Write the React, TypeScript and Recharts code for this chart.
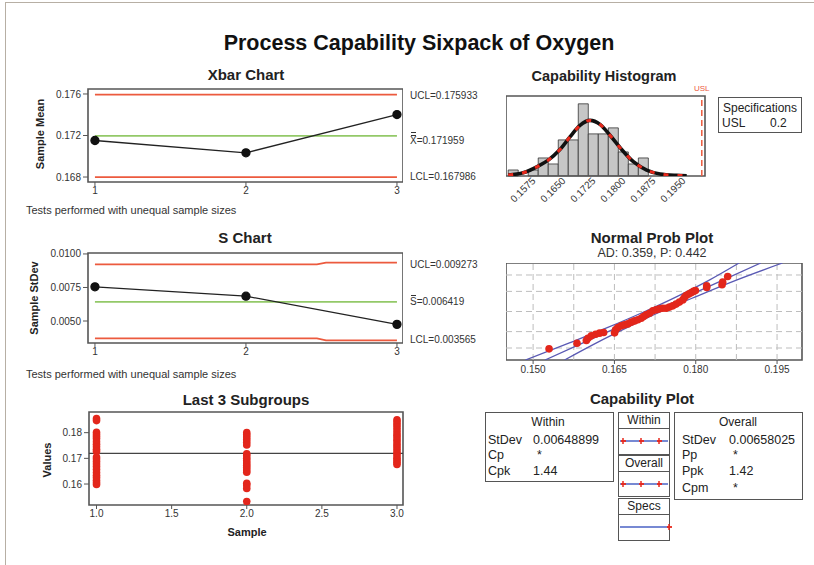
import React from "react";
import {
  ComposedChart,
  Line,
  Scatter,
  XAxis,
  YAxis,
  ReferenceLine,
  ReferenceArea,
} from "recharts";

const FONT = '"Liberation Sans", Arial, Helvetica, sans-serif';
const RED = "#ec5a3e";
const GREEN = "#93c968";
const DOT_RED = "#e3261b";
const BAND_BLUE = "#5a5ab4";
const FRAME = "#555";

// Xbar chart
const samples = [1, 2, 3];
const xbarMeans = [0.17152, 0.17033, 0.17402];
const xbarUCL = 0.175933;
const xbarCL = 0.171959;
const xbarLCL = 0.167986;
const xbarTicks = [0.168, 0.172, 0.176];

// S chart (limits step between subgroup 2 and 3)
const sValues = [0.00755, 0.00685, 0.00475];
const sLimitX = [1, 2.47, 2.53, 3];
const sUCL = [0.00922, 0.00922, 0.00935, 0.00935];
const sLCL = [0.0037, 0.0037, 0.00355, 0.00355];
const sCL = 0.006419;
const sTicks = [0.005, 0.0075, 0.01];

// Last 3 subgroups
const group1 = [
  0.1855, 0.1847, 0.1801, 0.1792, 0.1784, 0.1776, 0.1765, 0.1755, 0.1745, 0.1735, 0.1727,
  0.1705, 0.1697, 0.1688, 0.1678, 0.1668, 0.1657, 0.1645, 0.1634, 0.1625, 0.1615, 0.1606, 0.1598,
];
const group2 = [
  0.18, 0.1792, 0.1783, 0.1773, 0.1763, 0.1752, 0.1718, 0.171, 0.17, 0.1691, 0.1682, 0.1673,
  0.1664, 0.1655, 0.1646, 0.1603, 0.1596, 0.1583, 0.1532,
];
const group3 = [
  0.185, 0.1842, 0.1832, 0.1822, 0.1811, 0.18, 0.179, 0.178, 0.177, 0.176, 0.175, 0.174,
  0.173, 0.172, 0.171, 0.17, 0.1692, 0.1684, 0.1676,
];
const subgroupXTicks = [1, 1.5, 2, 2.5, 3];
const subgroupYTicks = [0.16, 0.17, 0.18];

// Capability histogram
const histBinLow = [
  0.15165, 0.15415, 0.15665, 0.15915, 0.16165, 0.16415, 0.16665, 0.16915, 0.17165, 0.17415,
  0.17665, 0.17915, 0.18165, 0.18415,
];
const histCounts = [1, 0, 1, 3, 2, 6, 6, 12, 7, 7, 8, 4, 2, 3];
const histBinWidth = 0.0025;
const histCurveX = [
  0.15165, 0.1554, 0.15915, 0.16165, 0.16457, 0.16707, 0.16957, 0.17207, 0.17457, 0.17707,
  0.17998, 0.1829, 0.18623, 0.18957, 0.19373, 0.19623,
];
const histCurveY = [
  0.17, 0.55, 1.65, 2.64, 4.4, 6.49, 8.4, 9.24, 8.58, 6.77, 4.4, 2.37, 0.99, 0.33, 0.11, 0.05,
];
const histTicks = [0.1575, 0.165, 0.1725, 0.18, 0.1875, 0.195];
const USL = 0.2;

// Normal probability plot (x = value, z = normal score)
const probX = [
  0.15294, 0.1581, 0.15982, 0.16012, 0.16074, 0.16153, 0.16227, 0.16301, 0.16503, 0.16521,
  0.16564, 0.16626, 0.16687, 0.16748, 0.1681, 0.16871, 0.16932, 0.16994, 0.17037, 0.17086,
  0.17147, 0.17209, 0.1727, 0.17331, 0.17393, 0.17454, 0.17515, 0.17577, 0.17638, 0.17699,
  0.17761, 0.17791, 0.17822, 0.17871, 0.17914, 0.17957, 0.17994, 0.18202, 0.18202, 0.18485,
  0.18497, 0.18589,
];
const probZ = [
  -2.38, -2.02, -1.85, -1.7, -1.55, -1.45, -1.38, -1.34, -1.36, -1.17, -1.02, -0.91, -0.85,
  -0.79, -0.68, -0.6, -0.53, -0.43, -0.32, -0.21, -0.11, 0.04, 0.11, 0.17, 0.21, 0.21, 0.28,
  0.36, 0.47, 0.6, 0.74, 0.89, 1.02, 1.11, 1.19, 1.28, 1.34, 1.53, 1.64, 1.7, 1.87, 2.23,
];
const bandZ = [-3.09, -2, -1, 0, 1, 2, 3.09];
const fitX = [0.1522, 0.1592, 0.1657, 0.1721, 0.1786, 0.185, 0.192];
const upperBandX = [0.1486, 0.1567, 0.1639, 0.1706, 0.1768, 0.1825, 0.188];
const lowerBandX = [0.1558, 0.1617, 0.1675, 0.1736, 0.1804, 0.1875, 0.196];
const probTicks = [0.15, 0.165, 0.18, 0.195];
const probGridX = [0.15, 0.1575, 0.165, 0.1725, 0.18, 0.1875, 0.195];
const probGridZ = [-2.326, -1.282, 0, 1.282, 2.326];

const AXIS_TICK = { fontSize: 10, fill: "#333", fontFamily: FONT };

type TxtProps = {
  x: number;
  y: number;
  size?: number;
  bold?: boolean;
  center?: boolean;
  rotate?: boolean;
  color?: string;
  children: React.ReactNode;
};

function Txt({ x, y, size = 11, bold = false, center = false, rotate = false, color = "#222", children }: TxtProps) {
  const tx = center || rotate ? "-50%" : "0";
  return (
    <div
      style={{
        position: "absolute",
        left: x,
        top: y,
        fontFamily: FONT,
        fontSize: size,
        fontWeight: bold ? 700 : 400,
        color,
        lineHeight: 1,
        whiteSpace: "nowrap",
        transform: `translate(${tx},-50%)${rotate ? " rotate(-90deg)" : ""}`,
      }}
    >
      {children}
    </div>
  );
}

// letter with one (S) or two (X) bars above it
function Barred({ n }: { n: number }) {
  return (
    <span style={{ position: "relative", display: "inline-block" }}>
      {n === 2 ? "X" : "S"}
      <span
        style={{
          position: "absolute",
          left: 1,
          right: 1,
          top: n === 2 ? -4 : -2,
          height: n === 2 ? 2 : 0,
          borderTop: "1px solid #333",
          borderBottom: n === 2 ? "1px solid #333" : "none",
        }}
      />
    </span>
  );
}

function HistTick(props: any) {
  const { x, y, payload } = props;
  return (
    <g transform={`translate(${x + 2},${y + 1}) rotate(-45)`}>
      <text textAnchor="end" dy="0.35em" fontSize={10} fill="#333" fontFamily={FONT}>
        {Number(payload.value).toFixed(4)}
      </text>
    </g>
  );
}

const dotShape = (p: any) => <circle cx={p.cx} cy={p.cy} r={3.8} fill={DOT_RED} />;

function XbarChart() {
  const xd = [0.954, 3.04];
  const yd = [0.16752, 0.17648];
  const series = samples.map((s, i) => ({ x: s, y: xbarMeans[i] }));
  const hline = (v: number) => [
    { x: samples[0], y: v },
    { x: samples[samples.length - 1], y: v },
  ];
  return (
    <div style={{ position: "absolute", left: 28, top: 83 }}>
      <ComposedChart width={375} height={119} margin={{ top: 6, right: 0, bottom: 0, left: 0 }}>
        <XAxis type="number" dataKey="x" domain={xd} ticks={samples} allowDataOverflow interval={0}
          axisLine={false} tickLine={{ stroke: FRAME }} tickSize={4} tickMargin={1} tick={AXIS_TICK} height={20} />
        <YAxis type="number" dataKey="y" domain={yd} ticks={xbarTicks} allowDataOverflow interval={0}
          axisLine={false} tickLine={{ stroke: FRAME }} tickSize={5} tickMargin={2} tick={AXIS_TICK} width={60}
          tickFormatter={(v: number) => v.toFixed(3)} />
        <ReferenceArea x1={xd[0]} x2={xd[1]} y1={yd[0]} y2={yd[1]} fill="none" stroke={FRAME} strokeWidth={1.6} ifOverflow="visible" />
        <Line data={hline(xbarUCL)} dataKey="y" stroke={RED} strokeWidth={1.8} dot={false} isAnimationActive={false} />
        <Line data={hline(xbarCL)} dataKey="y" stroke={GREEN} strokeWidth={1.8} dot={false} isAnimationActive={false} />
        <Line data={hline(xbarLCL)} dataKey="y" stroke={RED} strokeWidth={1.8} dot={false} isAnimationActive={false} />
        <Line data={series} dataKey="y" stroke="#222" strokeWidth={1.3} dot={{ r: 4, fill: "#111", stroke: "#111" }} isAnimationActive={false} />
      </ComposedChart>
    </div>
  );
}

function SChart() {
  const xd = [0.954, 3.04];
  const yd = [0.00336, 0.01007];
  const series = samples.map((s, i) => ({ x: s, y: sValues[i] }));
  const ucl = sLimitX.map((x, i) => ({ x, y: sUCL[i] }));
  const lcl = sLimitX.map((x, i) => ({ x, y: sLCL[i] }));
  const cl = [
    { x: samples[0], y: sCL },
    { x: samples[samples.length - 1], y: sCL },
  ];
  return (
    <div style={{ position: "absolute", left: 28, top: 245 }}>
      <ComposedChart width={375} height={118} margin={{ top: 8, right: 0, bottom: 0, left: 0 }}>
        <XAxis type="number" dataKey="x" domain={xd} ticks={samples} allowDataOverflow interval={0}
          axisLine={false} tickLine={{ stroke: FRAME }} tickSize={4} tickMargin={1} tick={AXIS_TICK} height={20} />
        <YAxis type="number" dataKey="y" domain={yd} ticks={sTicks} allowDataOverflow interval={0}
          axisLine={false} tickLine={{ stroke: FRAME }} tickSize={5} tickMargin={2} tick={AXIS_TICK} width={60}
          tickFormatter={(v: number) => v.toFixed(4)} />
        <ReferenceArea x1={xd[0]} x2={xd[1]} y1={yd[0]} y2={yd[1]} fill="none" stroke={FRAME} strokeWidth={1.6} ifOverflow="visible" />
        <Line data={ucl} dataKey="y" stroke={RED} strokeWidth={1.8} dot={false} isAnimationActive={false} />
        <Line data={cl} dataKey="y" stroke={GREEN} strokeWidth={1.8} dot={false} isAnimationActive={false} />
        <Line data={lcl} dataKey="y" stroke={RED} strokeWidth={1.8} dot={false} isAnimationActive={false} />
        <Line data={series} dataKey="y" stroke="#222" strokeWidth={1.3} dot={{ r: 4, fill: "#111", stroke: "#111" }} isAnimationActive={false} />
      </ComposedChart>
    </div>
  );
}

function SubgroupChart() {
  const xd = [0.95, 3.04];
  const yd = [0.15183, 0.18805];
  const pts = [
    ...group1.map((v) => ({ x: samples[0], y: v })),
    ...group2.map((v) => ({ x: samples[1], y: v })),
    ...group3.map((v) => ({ x: samples[2], y: v })),
  ];
  return (
    <div style={{ position: "absolute", left: 29, top: 406 }}>
      <ComposedChart width={378} height={119} margin={{ top: 6, right: 4, bottom: 0, left: 0 }}>
        <XAxis type="number" dataKey="x" domain={xd} ticks={subgroupXTicks} allowDataOverflow interval={0}
          axisLine={false} tickLine={{ stroke: FRAME }} tickSize={4} tickMargin={1} tick={AXIS_TICK} height={20}
          tickFormatter={(v: number) => v.toFixed(1)} />
        <YAxis type="number" dataKey="y" domain={yd} ticks={subgroupYTicks} allowDataOverflow interval={0}
          axisLine={false} tickLine={{ stroke: FRAME }} tickSize={5} tickMargin={2} tick={AXIS_TICK} width={60}
          tickFormatter={(v: number) => v.toFixed(2)} />
        <ReferenceArea x1={xd[0]} x2={xd[1]} y1={yd[0]} y2={yd[1]} fill="none" stroke={FRAME} strokeWidth={1.6} ifOverflow="visible" />
        <ReferenceLine y={xbarCL} stroke="#444" strokeWidth={1.2} />
        <Scatter data={pts} shape={dotShape} isAnimationActive={false} />
      </ComposedChart>
    </div>
  );
}

function HistogramChart() {
  const xd = [0.1511, 0.2008];
  const yd = [0, 13.3];
  const curve = histCurveX.map((x, i) => ({ x, y: histCurveY[i] }));
  return (
    <div style={{ position: "absolute", left: 506, top: 82 }}>
      <ComposedChart width={214} height={129} margin={{ top: 14, right: 15, bottom: 0, left: 0 }}>
        <XAxis type="number" dataKey="x" domain={xd} ticks={histTicks} allowDataOverflow interval={0}
          axisLine={false} tickLine={false} tickSize={0} tickMargin={2} tick={<HistTick />} height={35} />
        <YAxis type="number" dataKey="y" domain={yd} allowDataOverflow hide />
        {histBinLow.map((lo, i) =>
          histCounts[i] > 0 ? (
            <ReferenceArea key={lo} x1={lo} x2={lo + histBinWidth} y1={0} y2={histCounts[i]}
              fill="#c6c6c6" fillOpacity={1} stroke="#333" strokeWidth={0.8} ifOverflow="visible" />
          ) : null
        )}
        <ReferenceArea x1={xd[0]} x2={xd[1]} y1={yd[0]} y2={yd[1]} fill="none" stroke={FRAME} strokeWidth={1.6} ifOverflow="visible" />
        <ReferenceLine x={USL} stroke={RED} strokeWidth={1.5} strokeDasharray="6 4"
          label={{ value: "USL", position: "top", fill: RED, fontSize: 8, fontFamily: FONT }} />
        <Line data={curve} dataKey="y" type="monotone" stroke="#111" strokeWidth={3.6} dot={false} isAnimationActive={false} />
        <Line data={curve} dataKey="y" type="monotone" stroke="#e8291c" strokeWidth={3} strokeDasharray="5 9" dot={false} isAnimationActive={false} />
      </ComposedChart>
    </div>
  );
}

function ProbChart() {
  const xd = [0.145, 0.1996];
  const yd = [-3.09, 3.09];
  const pts = probX.map((x, i) => ({ x, z: probZ[i] }));
  const band = (xs: number[]) => xs.map((x, i) => ({ x, z: bandZ[i] }));
  return (
    <div style={{ position: "absolute", left: 506, top: 263 }}>
      <ComposedChart width={300} height={119} margin={{ top: 0, right: 4, bottom: 0, left: 0 }}>
        <XAxis type="number" dataKey="x" domain={xd} ticks={probTicks} allowDataOverflow interval={0}
          axisLine={false} tickLine={{ stroke: FRAME }} tickSize={4} tickMargin={2} tick={AXIS_TICK} height={22}
          tickFormatter={(v: number) => v.toFixed(3)} />
        <YAxis type="number" dataKey="z" domain={yd} allowDataOverflow hide />
        {probGridX.map((v) => (
          <ReferenceLine key={"gx" + v} x={v} stroke="#bdbdbd" strokeDasharray="6 4" />
        ))}
        {probGridZ.map((v) => (
          <ReferenceLine key={"gz" + v} y={v} stroke="#bdbdbd" strokeDasharray="6 4" />
        ))}
        <ReferenceArea x1={xd[0]} x2={xd[1]} y1={yd[0]} y2={yd[1]} fill="none" stroke={FRAME} strokeWidth={1.6} ifOverflow="visible" />
        <Line data={band(upperBandX)} dataKey="z" type="monotone" stroke={BAND_BLUE} strokeWidth={1.3} dot={false} isAnimationActive={false} />
        <Line data={band(fitX)} dataKey="z" type="linear" stroke={BAND_BLUE} strokeWidth={1.3} dot={false} isAnimationActive={false} />
        <Line data={band(lowerBandX)} dataKey="z" type="monotone" stroke={BAND_BLUE} strokeWidth={1.3} dot={false} isAnimationActive={false} />
        <Scatter data={pts} shape={dotShape} isAnimationActive={false} />
      </ComposedChart>
    </div>
  );
}

const boxBorder = "1.6px solid #555";

function LegendLine({ top, marks }: { top: number; marks: number[] }) {
  return (
    <svg style={{ position: "absolute", left: 618, top: top - 5 }} width={56} height={10}>
      <line x1={2} y1={5} x2={50} y2={5} stroke="#4a62c4" strokeWidth={1.5} />
      {marks.map((m) => (
        <g key={m}>
          <line x1={m - 2} y1={5} x2={m + 3} y2={5} stroke="#e8291c" strokeWidth={1.8} />
          <line x1={m} y1={2} x2={m} y2={8} stroke="#e8291c" strokeWidth={1.5} />
        </g>
      ))}
    </svg>
  );
}

function CapabilityPlot() {
  return (
    <>
      <div style={{ position: "absolute", left: 485, top: 412, width: 129, height: 70, border: boxBorder, boxSizing: "border-box" }} />
      <Txt x={548} y={422} size={12} center>Within</Txt>
      <Txt x={488} y={440} size={12.5}>StDev</Txt>
      <Txt x={533} y={440} size={12.5}>0.00648899</Txt>
      <Txt x={488} y={455} size={12.5}>Cp</Txt>
      <Txt x={537} y={455} size={12.5}>*</Txt>
      <Txt x={488} y={471} size={12.5}>Cpk</Txt>
      <Txt x={533} y={471} size={12.5}>1.44</Txt>

      <div style={{ position: "absolute", left: 618, top: 412, width: 52, height: 43, border: boxBorder, boxSizing: "border-box" }} />
      <div style={{ position: "absolute", left: 618, top: 428, width: 52, height: 0, borderTop: boxBorder }} />
      <Txt x={644} y={420} size={12} center>Within</Txt>
      <LegendLine top={441} marks={[5, 23, 41]} />

      <div style={{ position: "absolute", left: 618, top: 455, width: 52, height: 42, border: boxBorder, boxSizing: "border-box" }} />
      <div style={{ position: "absolute", left: 618, top: 471, width: 52, height: 0, borderTop: boxBorder }} />
      <Txt x={644} y={463} size={12} center>Overall</Txt>
      <LegendLine top={484} marks={[5, 23, 41]} />

      <div style={{ position: "absolute", left: 618, top: 498, width: 52, height: 43, border: boxBorder, boxSizing: "border-box" }} />
      <div style={{ position: "absolute", left: 618, top: 514, width: 52, height: 0, borderTop: boxBorder }} />
      <Txt x={644} y={506} size={12} center>Specs</Txt>
      <LegendLine top={527} marks={[51]} />

      <div style={{ position: "absolute", left: 674, top: 412, width: 129, height: 88, border: boxBorder, boxSizing: "border-box" }} />
      <Txt x={738} y={422} size={12} center>Overall</Txt>
      <Txt x={682} y={440} size={12.5}>StDev</Txt>
      <Txt x={729} y={440} size={12.5}>0.00658025</Txt>
      <Txt x={682} y={455} size={12.5}>Pp</Txt>
      <Txt x={733} y={455} size={12.5}>*</Txt>
      <Txt x={682} y={471} size={12.5}>Ppk</Txt>
      <Txt x={729} y={471} size={12.5}>1.42</Txt>
      <Txt x={682} y={488} size={12.5}>Cpm</Txt>
      <Txt x={733} y={488} size={12.5}>*</Txt>
    </>
  );
}

export default function App() {
  return (
    <div style={{ position: "absolute", left: 0, top: 0, width: 814, height: 565, background: "#fff", overflow: "hidden" }}>
      <div style={{ position: "absolute", left: 5, top: 2, width: 840, height: 600, borderLeft: "1.5px solid #b7afa4", borderTop: "1.5px solid #b7afa4" }} />

      <Txt x={419} y={44} size={21.5} bold center color="#111">Process Capability Sixpack of Oxygen</Txt>

      <Txt x={246} y={74} size={15} bold center>Xbar Chart</Txt>
      <XbarChart />
      <Txt x={40} y={134} size={11} bold rotate>Sample Mean</Txt>
      <Txt x={410} y={96} size={10} color="#333">UCL=0.175933</Txt>
      <Txt x={410} y={141} size={10} color="#333"><Barred n={2} />=0.171959</Txt>
      <Txt x={410} y={177} size={10} color="#333">LCL=0.167986</Txt>
      <Txt x={26} y={210} size={11} color="#333">Tests performed with unequal sample sizes</Txt>

      <Txt x={245} y={237} size={15} bold center>S Chart</Txt>
      <SChart />
      <Txt x={34} y={298} size={11} bold rotate>Sample StDev</Txt>
      <Txt x={410} y={265} size={10} color="#333">UCL=0.009273</Txt>
      <Txt x={410} y={302} size={10} color="#333"><Barred n={1} />=0.006419</Txt>
      <Txt x={410} y={340} size={10} color="#333">LCL=0.003565</Txt>
      <Txt x={26} y={374} size={11} color="#333">Tests performed with unequal sample sizes</Txt>

      <Txt x={246} y={399} size={15} bold center>Last 3 Subgroups</Txt>
      <SubgroupChart />
      <Txt x={47} y={460} size={11} bold rotate>Values</Txt>
      <Txt x={247} y={532} size={11} bold center>Sample</Txt>

      <Txt x={604} y={76} size={14.5} bold center>Capability Histogram</Txt>
      <HistogramChart />
      <div style={{ position: "absolute", left: 718, top: 97, width: 84, height: 36, border: boxBorder, boxSizing: "border-box" }} />
      <Txt x={760} y={108} size={12} center>Specifications</Txt>
      <Txt x={722} y={123} size={12}>USL</Txt>
      <Txt x={770} y={123} size={12}>0.2</Txt>

      <Txt x={652} y={237} size={15} bold center>Normal Prob Plot</Txt>
      <Txt x={652} y={253} size={12.5} center color="#333">AD: 0.359, P: 0.442</Txt>
      <ProbChart />

      <Txt x={642} y={398} size={15} bold center>Capability Plot</Txt>
      <CapabilityPlot />
    </div>
  );
}
